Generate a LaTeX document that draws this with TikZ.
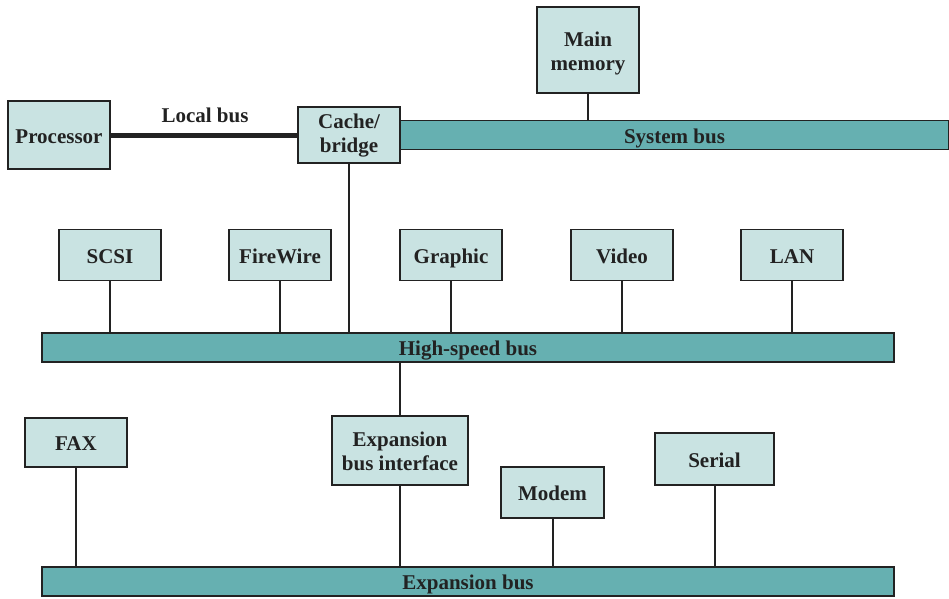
\documentclass[tikz,border=0pt]{standalone}
\usepackage{fontspec}
\setmainfont{Liberation Serif}
\definecolor{boxfill}{HTML}{C9E3E2}
\definecolor{busfill}{HTML}{66B0B1}
\definecolor{edge}{HTML}{222222}
\begin{document}
\begin{tikzpicture}[x=1pt,y=-1pt,
  unit/.style={draw=edge,line width=1.3pt,fill=boxfill,rectangle,inner sep=0pt,align=center,
    font=\fontsize{21}{24}\selectfont\bfseries,text=edge},
  one/.style={text height=17pt,text depth=1pt},
  bus/.style={draw=edge,line width=1.3pt,fill=busfill,rectangle,inner sep=0pt,
    minimum height=29pt,font=\fontsize{21}{24}\selectfont\bfseries,text=edge,one},
  link/.style={draw=edge,line width=2pt},
  lbl/.style={font=\fontsize{21}{24}\selectfont\bfseries,text=edge,inner sep=0pt}]
\useasboundingbox (0,0) rectangle (949,598);
% buses
\node[bus,minimum width=549pt] (sysbus) at (674.5,135) {System bus};
\node[bus,minimum width=852pt] (hsbus) at (468,347.5) {High-speed bus};
\node[bus,minimum width=852pt] (expbus) at (468,581.5) {Expansion bus};
% units
\node[unit,one,minimum width=102pt,minimum height=68pt] (proc) at (59,135) {Processor};
\node[unit,text height=35pt,text depth=0pt,minimum width=102pt,minimum height=56pt] (cache) at (349,135) {Cache/\\bridge};
\node[unit,text height=40pt,text depth=0pt,minimum width=102pt,minimum height=86pt] (mem) at (588,50) {Main\\memory};
\node[unit,one,minimum width=102pt,minimum height=51pt] (scsi) at (110,255) {SCSI};
\node[unit,one,minimum width=102pt,minimum height=51pt] (fw) at (280,255) {FireWire};
\node[unit,one,minimum width=102pt,minimum height=51pt] (gfx) at (451,255) {Graphic};
\node[unit,one,minimum width=102pt,minimum height=51pt] (video) at (622,255) {Video};
\node[unit,one,minimum width=102pt,minimum height=51pt] (lan) at (792,255) {LAN};
\node[unit,text height=39pt,text depth=0pt,minimum width=136pt,minimum height=69pt] (ebi) at (400,450.5) {Expansion\\bus interface};
\node[unit,one,minimum width=102pt,minimum height=49pt] (fax) at (76,442.5) {FAX};
\node[unit,one,minimum width=103pt,minimum height=51pt] (modem) at (552.5,492.5) {Modem};
\node[unit,one,minimum width=119pt,minimum height=52pt] (serial) at (714.5,459) {Serial};
% local bus
\draw[draw=edge,line width=5pt] (proc.east) -- (cache.west);
\node[lbl] (lbus) at (205,115) {Local bus};
% connectors
\draw[link] (mem.south) -- (mem.south |- sysbus.north);
\draw[link] (cache.south) -- (cache.south |- hsbus.north);
\foreach \n in {scsi,fw,gfx,video,lan}{
  \draw[link] (\n.south) -- (\n.south |- hsbus.north);
}
\draw[link] (ebi.north) -- (ebi.north |- hsbus.south);
\foreach \n in {ebi,fax,modem,serial}{
  \draw[link] (\n.south) -- (\n.south |- expbus.north);
}
\end{tikzpicture}
\end{document}
